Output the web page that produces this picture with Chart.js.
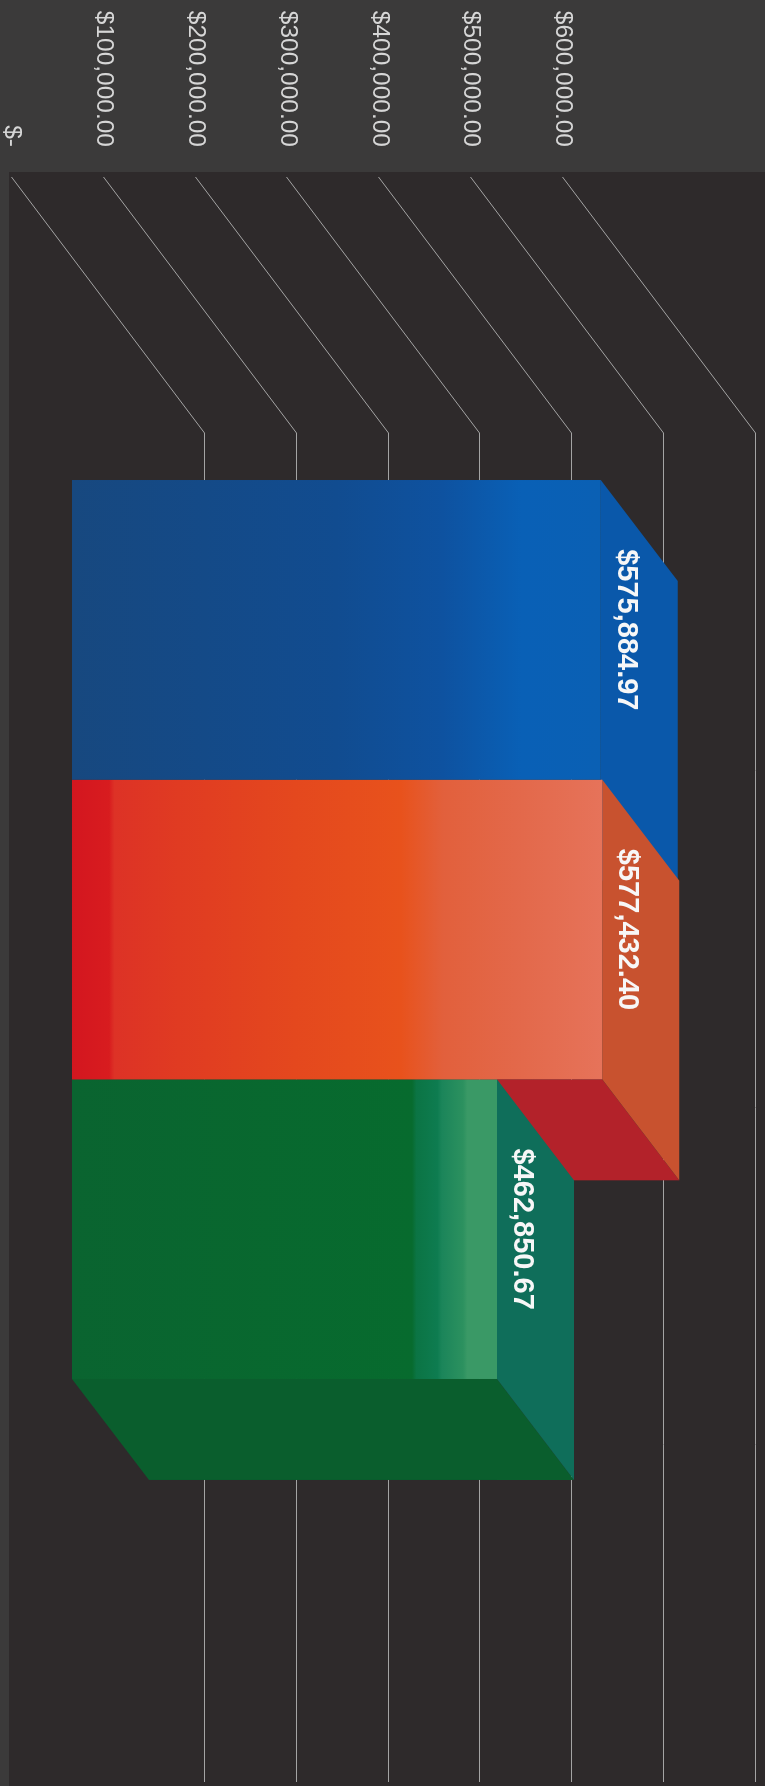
<!DOCTYPE html>
<html>
<head>
<meta charset="utf-8">
<script src="https://cdn.jsdelivr.net/npm/chart.js@4/dist/chart.umd.min.js"></script>
<style>
html, body { margin: 0; padding: 0; background: #3b3a3a; overflow: hidden; width: 765px; height: 1786px; }
#wrap { position: absolute; left: 0; top: 0; width: 1786px; height: 765px; transform-origin: 0 0; transform: translateX(765px) rotate(90deg); }
canvas { display: block; }
</style>
</head>
<body>
<div id="wrap"><canvas id="c" width="1786" height="765"></canvas></div>
<script>
// ---- data ----
const categories = [''];
const seriesNames = ['Series 1', 'Series 2', 'Series 3'];
const blueValues = [575884.97];
const orangeValues = [577432.40];
const greenValues = [462850.67];
const tickValues = [0, 100000, 200000, 300000, 400000, 500000, 600000];
const tickLabels = ['$-', '$100,000.00', '$200,000.00', '$300,000.00', '$400,000.00', '$500,000.00', '$600,000.00'];

// ---- style ----
const DEPTH = { dx: 101, dy: -77 };       // bar depth (front -> back)
const FRONT_WALL = { dx: -78, dy: 60 };   // bar front plane -> front wall edge
const BACK_WALL = { dx: 178, dy: -133 };  // bar front plane -> back wall
const topColors = ['#0a58aa', '#c8522f', '#0f6e5a'];
const sideColors = ['#0c4a8c', '#b3222a', '#0a5e2d'];
const frontStops = [
  [[0, '#17487f'], [0.5, '#114c90'], [0.7, '#0e52a0'], [0.85, '#0960b6'], [1, '#0a60b4']],
  [[0, '#d3161f'], [0.07, '#d81c1f'], [0.08, '#dd3226'], [0.2, '#e03b22'], [0.42, '#e4481e'], [0.62, '#e8521c'], [0.7, '#e2603c'], [0.85, '#e3694b'], [1, '#e6735a']],
  [[0, '#0a6430'], [0.8, '#076b2e'], [0.81, '#0b7444'], [0.86, '#0e7c50'], [0.87, '#1b855a'], [0.92, '#2c915f'], [0.93, '#3a9966'], [1, '#3a9966']]
];

function money(v) {
  return '$' + v.toLocaleString('en-US', { minimumFractionDigits: 2, maximumFractionDigits: 2 });
}

function frontFill(stops) {
  return (ctx) => {
    const chart = ctx.chart;
    if (!chart.chartArea || ctx.type !== 'data') return stops[0][1];
    const ys = chart.scales.y;
    const base = ys.getPixelForValue(0);
    const top = ys.getPixelForValue(ctx.parsed.y);
    const g = chart.ctx.createLinearGradient(0, base, 0, top);
    stops.forEach(([t, c]) => g.addColorStop(t, c));
    return g;
  };
}

function poly(c, pts, color) {
  c.beginPath();
  c.moveTo(pts[0][0], pts[0][1]);
  for (let i = 1; i < pts.length; i++) c.lineTo(pts[i][0], pts[i][1]);
  c.closePath();
  c.fillStyle = color;
  c.fill();
}

const bar3d = {
  id: 'bar3d',
  beforeDraw(chart) {
    const c = chart.ctx, a = chart.chartArea;
    c.save();
    c.fillStyle = '#3b3a3a';
    c.fillRect(0, 0, chart.width, chart.height);
    const px = a.left + FRONT_WALL.dx - 5;
    const py = a.bottom + FRONT_WALL.dy + 3;
    c.fillStyle = '#2e2a2b';
    c.fillRect(px, 0, chart.width - px, py);
    c.restore();
  },
  beforeDatasetsDraw(chart) {
    const c = chart.ctx, a = chart.chartArea, ys = chart.scales.y;
    c.save();
    // gridlines: side wall diagonal + back wall
    c.strokeStyle = '#a4a4a4';
    c.lineWidth = 1;
    tickValues.forEach(v => {
      const y = Math.round(ys.getPixelForValue(v)) + 0.5;
      c.beginPath();
      c.moveTo(a.left + FRONT_WALL.dx, y + FRONT_WALL.dy);
      c.lineTo(a.left + BACK_WALL.dx, y + BACK_WALL.dy);
      c.lineTo(a.right + BACK_WALL.dx, y + BACK_WALL.dy);
      c.stroke();
    });
    // tick labels
    c.fillStyle = '#d6d6d6';
    c.font = '24.5px "Liberation Sans", Arial, sans-serif';
    c.textAlign = 'right';
    c.textBaseline = 'middle';
    tickValues.forEach((v, i) => {
      const y = ys.getPixelForValue(v) + FRONT_WALL.dy;
      c.fillText(tickLabels[i], a.left + FRONT_WALL.dx - 30, y);
    });
    // 3D side and top faces (fronts are drawn by Chart.js)
    chart.data.datasets.forEach((ds, i) => {
      const meta = chart.getDatasetMeta(i);
      meta.data.forEach(el => {
        const p = el.getProps(['x', 'y', 'base', 'width'], true);
        const l = p.x - p.width / 2, r = p.x + p.width / 2;
        poly(c, [[r, p.y], [r + DEPTH.dx, p.y + DEPTH.dy], [r + DEPTH.dx, p.base + DEPTH.dy], [r, p.base]], sideColors[i]);
        poly(c, [[l, p.y], [r, p.y], [r + DEPTH.dx, p.y + DEPTH.dy], [l + DEPTH.dx, p.y + DEPTH.dy]], topColors[i]);
      });
    });
    c.restore();
  },
  afterDatasetsDraw(chart) {
    const c = chart.ctx;
    c.save();
    c.fillStyle = '#f7f7f7';
    c.font = 'bold 29px "Liberation Sans", Arial, sans-serif';
    c.textAlign = 'center';
    c.textBaseline = 'middle';
    chart.data.datasets.forEach((ds, i) => {
      const meta = chart.getDatasetMeta(i);
      meta.data.forEach((el, j) => {
        const p = el.getProps(['x', 'y'], true);
        c.fillText(money(ds.data[j]), p.x, p.y - 25);
      });
    });
    c.restore();
  }
};

const seriesValues = [blueValues, orangeValues, greenValues];

new Chart(document.getElementById('c'), {
  type: 'bar',
  data: {
    labels: categories,
    datasets: seriesValues.map((vals, i) => ({
      label: seriesNames[i],
      data: vals,
      backgroundColor: frontFill(frontStops[i]),
      borderWidth: 0,
      categoryPercentage: 0.6664,
      barPercentage: 1
    }))
  },
  options: {
    responsive: false,
    devicePixelRatio: 1,
    animation: false,
    layout: { padding: { left: 255, right: 182, top: 142, bottom: 72 } },
    scales: {
      x: { type: 'category', display: false, offset: true },
      y: { display: false, min: 0, max: 600000 }
    },
    plugins: { legend: { display: false }, tooltip: { enabled: false } }
  },
  plugins: [bar3d]
});
</script>
</body>
</html>
